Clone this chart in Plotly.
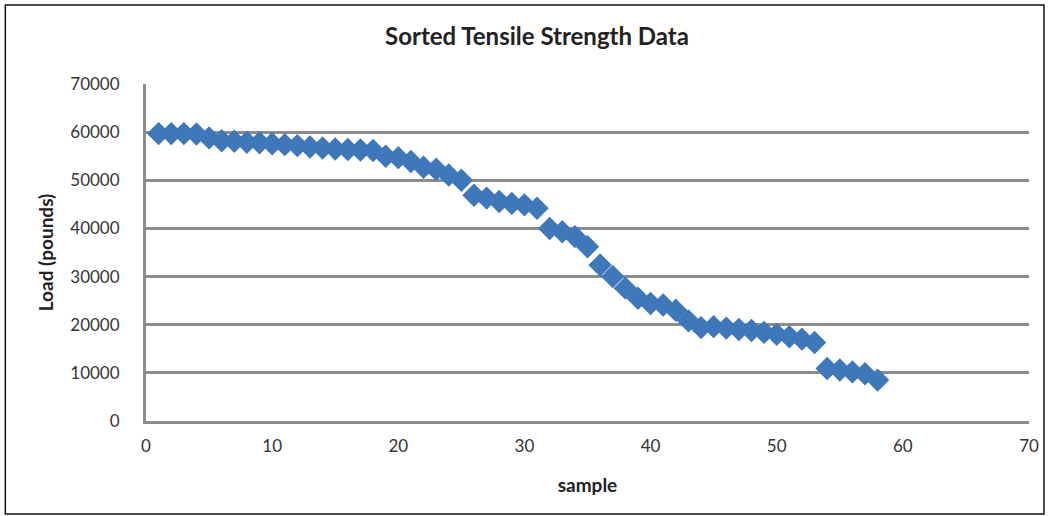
import plotly.graph_objects as go

samples = list(range(1, 59))
load = [59700, 59700, 59700, 59600, 58800, 58200, 58100, 57900, 57800, 57600,
        57400, 57200, 56900, 56700, 56500, 56400, 56300, 56200, 55000, 54700,
        53900, 52700, 52300, 51100, 50000, 46900, 46300, 45600, 45200, 44900,
        44200, 40000, 39300, 38300, 36200, 32400, 30000, 27600, 25500, 24400,
        24100, 23000, 20800, 19400, 19600, 19300, 19000, 18800, 18400, 18000,
        17500, 17000, 16300, 10900, 10600, 10200, 9800, 8500]

x_ticks = [0, 10, 20, 30, 40, 50, 60, 70]
y_ticks = [0, 10000, 20000, 30000, 40000, 50000, 60000, 70000]

W, H = 1051, 516
L, R, T, B = 146, 20, 84, 95
PW, PH = W - L - R, H - T - B

fig = go.Figure()
fig.add_trace(go.Scatter(
    x=samples, y=load, mode="markers",
    marker=dict(symbol="diamond", size=18, color="#3f77bb", line=dict(width=0)),
    showlegend=False, cliponaxis=False,
))

font_family = "Lato, 'Open Sans', sans-serif"

def px_x(px):
    return (px - L) / PW

def px_y(py):
    return (H - B - py) / PH

fig.update_layout(
    width=W, height=H,
    margin=dict(l=L, r=R, t=T, b=B),
    paper_bgcolor="white", plot_bgcolor="white",
    font=dict(family=font_family, size=17, color="#333333"),
    title=dict(text="<b>Sorted Tensile Strength Data</b>", x=537 / W, xanchor="center",
               y=1 - 37 / H, yanchor="middle",
               font=dict(family=font_family, size=24, color="#222222")),
    xaxis=dict(range=[0, 70], tickvals=x_ticks, ticktext=[str(v) for v in x_ticks],
               showgrid=False, zeroline=False, showline=True, linecolor="#8c8c8c",
               linewidth=3, ticks="", ticklabelstandoff=8, fixedrange=True,
               title=dict(text="<b>sample</b>", font=dict(size=19, color="#222222"), standoff=24)),
    yaxis=dict(range=[0, 70000], tickvals=y_ticks, ticktext=[str(v) for v in y_ticks],
               showgrid=True, gridcolor="#8c8c8c", gridwidth=2.5, zeroline=False,
               showline=True, linecolor="#8c8c8c", linewidth=3, ticks="",
               ticklabelstandoff=20, fixedrange=True,
               title=dict(text="<b>Load (pounds)</b>", font=dict(size=19, color="#222222"), standoff=12)),
    shapes=[dict(type="rect", xref="paper", yref="paper",
                 x0=px_x(5), x1=px_x(1046), y0=px_y(514), y1=px_y(5),
                 line=dict(color="#111111", width=1.5), layer="below")],
)

fig.write_html("out.html")
